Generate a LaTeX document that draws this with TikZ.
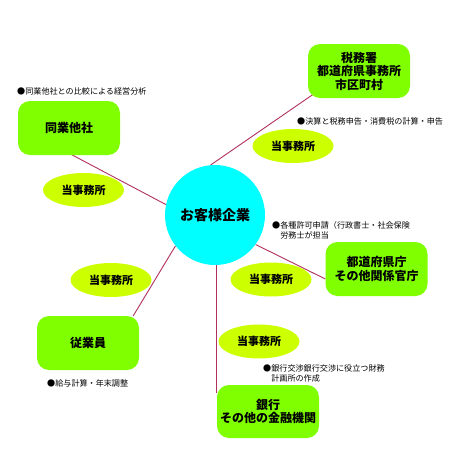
\documentclass[tikz,border=0pt]{standalone}
\usepackage{fontspec}
\setmainfont{Noto Sans CJK JP}
\usetikzlibrary{shapes.geometric,backgrounds}
\definecolor{boxGreen}{RGB}{128,255,0}
\definecolor{ovalGreen}{RGB}{204,255,0}
\definecolor{circleCyan}{RGB}{0,255,255}
\definecolor{lineRed}{RGB}{176,48,96}
\begin{document}
\begin{tikzpicture}[x=1pt,y=-1pt,
    kaisha/.style={fill=boxGreen,rounded corners=12pt,minimum width=102pt,minimum height=54pt,inner sep=0pt,align=center,font=\fontsize{12}{13.5}\selectfont\bfseries},
    jimusho/.style={ellipse,fill=ovalGreen,minimum width=81pt,minimum height=34pt,inner sep=0pt,font=\fontsize{11}{12}\selectfont\bfseries},
    memo/.style={anchor=west,align=left,inner sep=0pt,font=\fontsize{8.1}{10}\selectfont},
    sen/.style={draw=lineRed,line width=0.9pt}]
                \useasboundingbox (0,0) rectangle (450,450);
                % center
                \node[circle,fill=circleCyan,minimum size=100pt,inner sep=0pt,font=\fontsize{14}{16}\selectfont\bfseries] (kigyo) at (215,215) {お客様企業};
                % partners
                \node[kaisha] (doGyo) at (69,128) {同業他社};
                \node[kaisha] (zeiMu) at (359,71) {税務署\\都道府県事務所\\市区町村};
                \node[kaisha] (kanCho) at (376.5,269) {都道府県庁\\その他関係官庁};
                \node[kaisha] (juGyoin) at (88,343) {従業員};
                \node[kaisha,minimum height=53pt] (ginKo) at (268,411.5) {銀行\\その他の金融機関};
                % office
                \node[jimusho] (jimA) at (83.5,190) {当事務所};
                \node[jimusho] (jimB) at (293,146) {当事務所};
                \node[jimusho] (jimC) at (111,280) {当事務所};
                \node[jimusho] (jimD) at (271,279.5) {当事務所};
                \node[jimusho] (jimE) at (259,341.5) {当事務所};
                % notes
                \node[memo] (memoA) at (17,91) {●同業他社との比較による経営分析};
                \node[memo] (memoB) at (297,121) {●決算と税務申告・消費税の計算・申告};
                \node[memo] (memoC) at (272,230) {●各種許可申請（行政書士・社会保険\\\hphantom{●}労務士が担当};
                \node[memo] (memoD) at (47,383) {●給与計算・年末調整};
                \node[memo] (memoE) at (263,373) {●銀行交渉銀行交渉に役立つ財務\\\hphantom{●}計画所の作成};
                \begin{pgfonlayer}{background}
                \draw[sen] ([xshift=-2pt,yshift=3pt]doGyo.south) -- (kigyo.168);
                \draw[sen] ([xshift=7pt,yshift=5pt]zeiMu.south west) -- (kigyo.95);
                \draw[sen] (kigyo.-36) -- (kanCho.191);
                \draw[sen] (kigyo.218) -- (juGyoin.31);
                \draw[sen] (kigyo.center -| ginKo.west) -- ([yshift=-8pt]ginKo.north west);
                \end{pgfonlayer}
            \end{tikzpicture}
\end{document}
